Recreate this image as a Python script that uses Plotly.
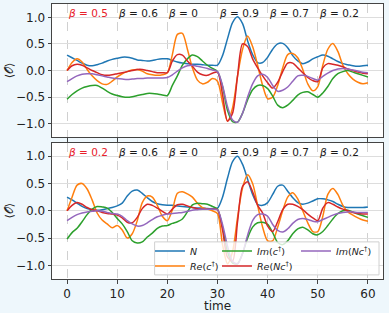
import plotly.graph_objects as go

time = list(range(61))

N_top = [0.29, 0.24, 0.19, 0.14, 0.10, 0.09, 0.11, 0.14, 0.18, 0.21,
         0.23, 0.25, 0.25, 0.23, 0.20, 0.19, 0.18, 0.19, 0.21, 0.22,
         0.22, 0.19, 0.16, 0.14, 0.13, 0.12, 0.12, 0.11, 0.10, 0.10,
         0.10, 0.28, 0.60, 0.90, 1.01, 0.88, 0.56, 0.30, 0.15, 0.15,
         0.25, 0.40, 0.50, 0.51, 0.43, 0.28, 0.18, 0.13, 0.16, 0.22,
         0.26, 0.29, 0.27, 0.22, 0.17, 0.13, 0.11, 0.09, 0.08, 0.09, 0.10]
Re_c_top = [0.00, 0.15, 0.22, 0.16, 0.02, -0.10, -0.19, -0.25, -0.26, -0.20,
            -0.12, -0.06, -0.02, 0.01, 0.02, -0.01, -0.06, -0.08, -0.09, -0.08,
            -0.04, 0.30, 0.68, 0.70, 0.40, 0.05, -0.18, -0.25, -0.22, -0.15,
            -0.20, -0.60, -0.95, -0.70, -0.10, 0.40, 0.65, 0.45, 0.10, -0.28,
            -0.53, -0.50, -0.28, 0.05, 0.30, 0.32, 0.24, 0.02, -0.25, -0.38,
            -0.30, 0.10, 0.40, 0.51, 0.36, 0.10, -0.06, -0.16, -0.22, -0.25, -0.23]
Im_c_top = [-0.54, -0.45, -0.38, -0.33, -0.30, -0.28, -0.28, -0.33, -0.39, -0.44,
            -0.47, -0.49, -0.50, -0.49, -0.47, -0.45, -0.43, -0.43, -0.44, -0.46,
            -0.47, -0.28, -0.10, 0.10, 0.22, 0.29, 0.26, 0.18, 0.10, 0.04,
            -0.02, -0.30, -0.75, -0.96, -0.97, -0.80, -0.55, -0.36, -0.28, -0.28,
            -0.34, -0.48, -0.65, -0.70, -0.65, -0.56, -0.46, -0.41, -0.40, -0.45,
            -0.50, -0.42, -0.30, -0.15, -0.06, -0.02, 0.00, -0.03, -0.06, -0.09, -0.12]
Re_Nc_top = [0.00, 0.09, 0.12, 0.10, 0.05, 0.00, -0.04, -0.08, -0.09, -0.08,
             -0.06, -0.04, -0.02, 0.00, 0.02, 0.02, 0.00, -0.02, -0.04, -0.04,
             -0.04, 0.18, 0.30, 0.29, 0.18, 0.08, -0.03, -0.08, -0.09, -0.05,
             -0.03, -0.45, -0.95, -0.80, -0.10, 0.50, 0.45, 0.22, 0.05, -0.10,
             -0.23, -0.33, -0.22, -0.02, 0.14, 0.14, 0.05, -0.04, -0.13, -0.19,
             -0.21, 0.05, 0.13, 0.12, 0.10, 0.07, 0.03, 0.00, -0.03, -0.05, -0.06]
Im_Nc_top = [-0.21, -0.15, -0.10, -0.07, -0.06, -0.06, -0.08, -0.10, -0.12, -0.14,
             -0.15, -0.16, -0.17, -0.16, -0.15, -0.15, -0.14, -0.14, -0.14, -0.14,
             -0.13, -0.08, -0.01, 0.05, 0.09, 0.10, 0.08, 0.06, 0.04, 0.01,
             -0.02, -0.28, -0.68, -0.93, -0.97, -0.80, -0.50, -0.25, -0.10, -0.07,
             -0.13, -0.28, -0.39, -0.37, -0.31, -0.20, -0.10, -0.09, -0.11, -0.15,
             -0.18, -0.11, -0.05, 0.00, 0.03, 0.04, 0.03, 0.01, -0.01, -0.03, -0.04]

N_bot = [0.25, 0.20, 0.14, 0.08, 0.04, 0.02, 0.01, 0.02, 0.04, 0.06,
         0.09, 0.14, 0.27, 0.36, 0.38, 0.32, 0.24, 0.17, 0.13, 0.11,
         0.10, 0.10, 0.09, 0.08, 0.07, 0.06, 0.05, 0.05, 0.04, 0.04,
         0.05, 0.25, 0.60, 0.90, 1.00, 0.85, 0.58, 0.30, 0.12, 0.10,
         0.15, 0.30, 0.45, 0.47, 0.36, 0.24, 0.15, 0.12, 0.14, 0.18,
         0.22, 0.22, 0.20, 0.17, 0.12, 0.08, 0.06, 0.06, 0.06, 0.06, 0.07]
Re_c_bot = [0.00, 0.25, 0.47, 0.50, 0.40, 0.20, -0.04, -0.17, -0.24, -0.31,
            -0.27, -0.35, -0.50, -0.42, -0.18, 0.15, 0.27, 0.25, 0.10, -0.10,
            -0.18, 0.02, 0.32, 0.35, 0.31, 0.25, 0.14, 0.06, 0.03, 0.00,
            -0.05, -0.62, -0.97, -0.75, -0.12, 0.42, 0.66, 0.50, 0.10, -0.30,
            -0.55, -0.55, -0.30, 0.00, 0.25, 0.33, 0.22, 0.00, -0.22, -0.38,
            -0.38, -0.10, 0.30, 0.41, 0.30, 0.10, -0.02, -0.08, -0.13, -0.17, -0.19]
Im_c_bot = [-0.52, -0.40, -0.32, -0.20, -0.07, 0.03, 0.08, 0.07, 0.05, -0.03,
            -0.14, -0.24, -0.38, -0.55, -0.59, -0.57, -0.48, -0.41, -0.32, -0.28,
            -0.27, -0.23, -0.20, -0.15, -0.02, 0.11, 0.14, 0.13, 0.12, 0.08,
            0.03, -0.30, -0.75, -0.96, -0.97, -0.78, -0.50, -0.30, -0.22, -0.21,
            -0.25, -0.40, -0.58, -0.62, -0.55, -0.42, -0.33, -0.30, -0.35, -0.42,
            -0.44, -0.38, -0.27, -0.15, -0.05, 0.00, 0.01, -0.02, -0.06, -0.09, -0.12]
Re_Nc_bot = [0.00, 0.10, 0.15, 0.12, 0.06, 0.02, 0.00, -0.03, -0.05, -0.06,
             -0.08, -0.13, -0.21, -0.22, -0.12, 0.04, 0.12, 0.10, 0.05, -0.01,
             -0.06, 0.03, 0.11, 0.12, 0.09, 0.06, 0.04, 0.03, 0.03, 0.03,
             0.02, -0.35, -0.85, -0.92, -0.20, 0.45, 0.53, 0.35, 0.10, -0.04,
             -0.28, -0.38, -0.20, 0.02, 0.12, 0.12, 0.08, 0.02, -0.06, -0.13,
             -0.18, 0.05, 0.15, 0.12, 0.07, 0.03, 0.00, -0.03, -0.05, -0.06, -0.06]
Im_Nc_bot = [-0.18, -0.12, -0.07, -0.04, -0.02, -0.01, 0.00, -0.01, -0.03, -0.05,
             -0.06, -0.10, -0.18, -0.24, -0.28, -0.27, -0.22, -0.16, -0.11, -0.08,
             -0.06, -0.05, -0.04, -0.03, -0.01, 0.01, 0.02, 0.03, 0.03, 0.03,
             0.02, -0.25, -0.65, -0.93, -0.97, -0.78, -0.45, -0.18, -0.07, -0.06,
             -0.10, -0.25, -0.36, -0.39, -0.33, -0.23, -0.16, -0.14, -0.16, -0.19,
             -0.20, -0.16, -0.12, -0.08, -0.05, -0.03, -0.02, -0.02, -0.03, -0.03, -0.03]

series_names = ["<i>N</i>", "<i>Re</i>(<i>c</i><sup>†</sup>)", "<i>Im</i>(<i>c</i><sup>†</sup>)",
                "<i>Re</i>(<i>Nc</i><sup>†</sup>)", "<i>Im</i>(<i>Nc</i><sup>†</sup>)"]
series_colors = ["#1f77b4", "#ff7f0e", "#2ca02c", "#d62728", "#9467bd"]
# legend rows: row 1 = N, Im(c†), Im(Nc†); row 2 = Re(c†), Re(Nc†)
series_legends = ["legend", "legend2", "legend", "legend2", "legend"]
series_entry_w = [22, 22, 34, 34, 34]
top_values = [N_top, Re_c_top, Im_c_top, Re_Nc_top, Im_Nc_top]
bot_values = [N_bot, Re_c_bot, Im_c_bot, Re_Nc_bot, Im_Nc_bot]

beta_times = [0, 10, 20, 30, 40, 50]
beta_top = ["0.5", "0.6", "0", "0.9", "0.7", "0.2"]
beta_bot = ["0.2", "0.6", "0", "0.9", "0.7", "0.2"]

for arr in top_values + bot_values:
    assert len(arr) == len(time), len(arr)

FONT = "DejaVu Sans"
fig = go.Figure()

for name, col, vals in zip(series_names, series_colors, top_values):
    fig.add_trace(go.Scatter(x=time, y=vals, mode="lines", name=name,
                             line=dict(color=col, width=1.5, shape="spline", smoothing=0.8),
                             xaxis="x", yaxis="y", showlegend=False, hoverinfo="skip"))
for name, col, vals, lg, ew in zip(series_names, series_colors, bot_values,
                                   series_legends, series_entry_w):
    fig.add_trace(go.Scatter(x=time, y=vals, mode="lines", name=name,
                             line=dict(color=col, width=1.5, shape="spline", smoothing=0.8),
                             xaxis="x2", yaxis="y2", showlegend=True, legend=lg,
                             legendwidth=ew, hoverinfo="skip"))

annotations = []
for yref, labels in (("y domain", beta_top), ("y2 domain", beta_bot)):
    xref = "x" if yref == "y domain" else "x2"
    for i, (t, b) in enumerate(zip(beta_times, labels)):
        annotations.append(dict(
            x=t, y=1, xref=xref, yref=yref, xanchor="left", yanchor="top",
            text="<i>β</i> = " + b, showarrow=False, yshift=-1, xshift=-1,
            font=dict(family=FONT, size=10.5, color="#e8202a" if i == 0 else "#1a1a1a")))

axis_common = dict(showline=True, mirror=True, linecolor="#444444", linewidth=1,
                   ticks="outside", ticklen=3.5, tickcolor="#444444", zeroline=False,
                   tickfont=dict(family=FONT, size=12, color="#222222"))
xaxis_common = dict(range=[-3, 63], tickvals=[0, 10, 20, 30, 40, 50, 60],
                    showgrid=True, gridcolor="#d0d0d0", griddash="dash", gridwidth=1,
                    **axis_common)
yaxis_common = dict(range=[-1.25, 1.25], tickvals=[-1, -0.5, 0, 0.5, 1], tickformat=".1f",
                    showgrid=True, gridcolor="#dddddd", gridwidth=1.2,
                    title=dict(text="⟨𝒪⟩", standoff=0, font=dict(family=FONT, size=11, color="#222222")),
                    **axis_common)

legend_common = dict(orientation="h", bgcolor="rgba(0,0,0,0)", borderwidth=0,
                     font=dict(family=FONT, size=9.5, color="#222222"),
                     yanchor="middle", xanchor="left", itemwidth=30,
                     entrywidthmode="pixels")

fig.update_layout(
    width=389, height=313,
    margin=dict(l=52, r=6, t=4, b=34, autoexpand=False),
    paper_bgcolor="#eef7fc", plot_bgcolor="white",
    xaxis=dict(domain=[0, 1], anchor="y", showticklabels=False, matches="x2", **xaxis_common),
    yaxis=dict(domain=[0.516, 1], anchor="x", **yaxis_common),
    xaxis2=dict(domain=[0, 1], anchor="y2",
                title=dict(text="time", standoff=5, font=dict(family=FONT, size=12, color="#222222")),
                **xaxis_common),
    yaxis2=dict(domain=[0, 0.496], anchor="x2", **yaxis_common),
    legend=dict(x=0.296, y=0.102, **legend_common),
    legend2=dict(x=0.296, y=0.047, **legend_common),
    annotations=annotations,
    shapes=[dict(type="rect", xref="paper", yref="paper", x0=0.31, x1=0.988, y0=0.015, y1=0.135,
                 fillcolor="rgba(255,255,255,0.8)", line=dict(color="#d0d0d0", width=1),
                 layer="above")],
    showlegend=True,
)

fig.write_html("out.html", config={"displayModeBar": False},
               post_script="document.body.style.margin='0';")
